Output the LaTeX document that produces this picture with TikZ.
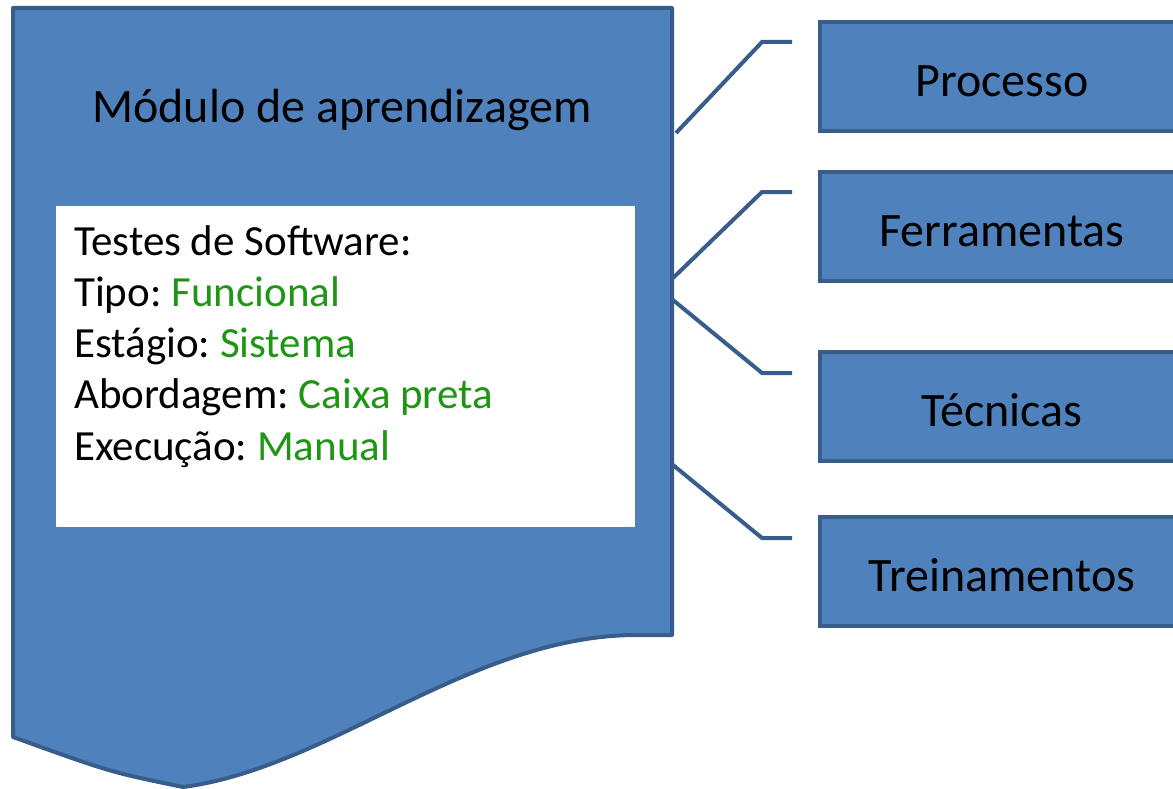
\documentclass[tikz,border=0pt]{standalone}
\usepackage{fontspec}
\setmainfont{Carlito}
\frenchspacing
\definecolor{docfill}{HTML}{4F81BD}
\definecolor{docline}{HTML}{385D8A}
\definecolor{valgreen}{RGB}{30,150,20}
\tikzset{
  shapeline/.style={draw=docline, line width=4pt, fill=docfill},
  sidebox/.style={shapeline, rectangle, minimum width=364pt, minimum height=109pt,
    inner sep=0pt, text height=40pt, text depth=0pt,
    font=\fontsize{48}{56}\selectfont},
  link/.style={draw=docline, line width=4pt, line join=miter},
  val/.style={text=valgreen}
}
\begin{document}
\begin{tikzpicture}[x=1pt, y=-1pt]
\useasboundingbox (0,0) rectangle (1173,789);
% document shape
\draw[shapeline, line join=round] (13,8) -- (672,8) -- (672,635) -- (635,635)
  .. controls (470,636) and (330,768) .. (183,787)
  .. controls (110,772) .. (13,737) -- cycle;
\node[font=\fontsize{48}{56}\selectfont, anchor=base] (title) at (342,123) {Módulo de aprendizagem};
% white panel
\node[fill=white, draw=none, minimum width=579pt, minimum height=321pt, inner sep=0pt, anchor=north west] (panel) at (56,206) {};
\node[anchor=base west, align=left, inner sep=0pt, font=\fontsize{43}{51.2}\selectfont] (info) at (74,460)
  {Testes de Software:\\
   Tipo: {\color{valgreen}Funcional}\\
   Estágio: {\color{valgreen}Sistema}\\
   Abordagem: {\color{valgreen}Caixa preta}\\
   Execução: {\color{valgreen}Manual}};
% side boxes
\node[sidebox] (proc) at (1002,76.5) {Processo};
\node[sidebox] (ferr) at (1002,226.5) {Ferramentas};
\node[sidebox] (tecn) at (1002,406.5) {Técnicas};
\node[sidebox] (trei) at (1002,571.5) {Treinamentos};
% connector points
\coordinate (s1) at (676,133);  \coordinate (b1) at (762,42);  \coordinate (e1) at (792,42);
\coordinate (s2) at (673,278);  \coordinate (b2) at (762,192); \coordinate (e2) at (792,192);
\coordinate (s3) at (673,300);  \coordinate (b3) at (762,373); \coordinate (e3) at (792,373);
\coordinate (s4) at (673,465);  \coordinate (b4) at (762,538); \coordinate (e4) at (792,538);
\draw[link] (s1) -- (b1) -- (e1);
\draw[link] (s2) -- (b2) -- (e2);
\draw[link] (s3) -- (b3) -- (e3);
\draw[link] (s4) -- (b4) -- (e4);
\end{tikzpicture}
\end{document}
